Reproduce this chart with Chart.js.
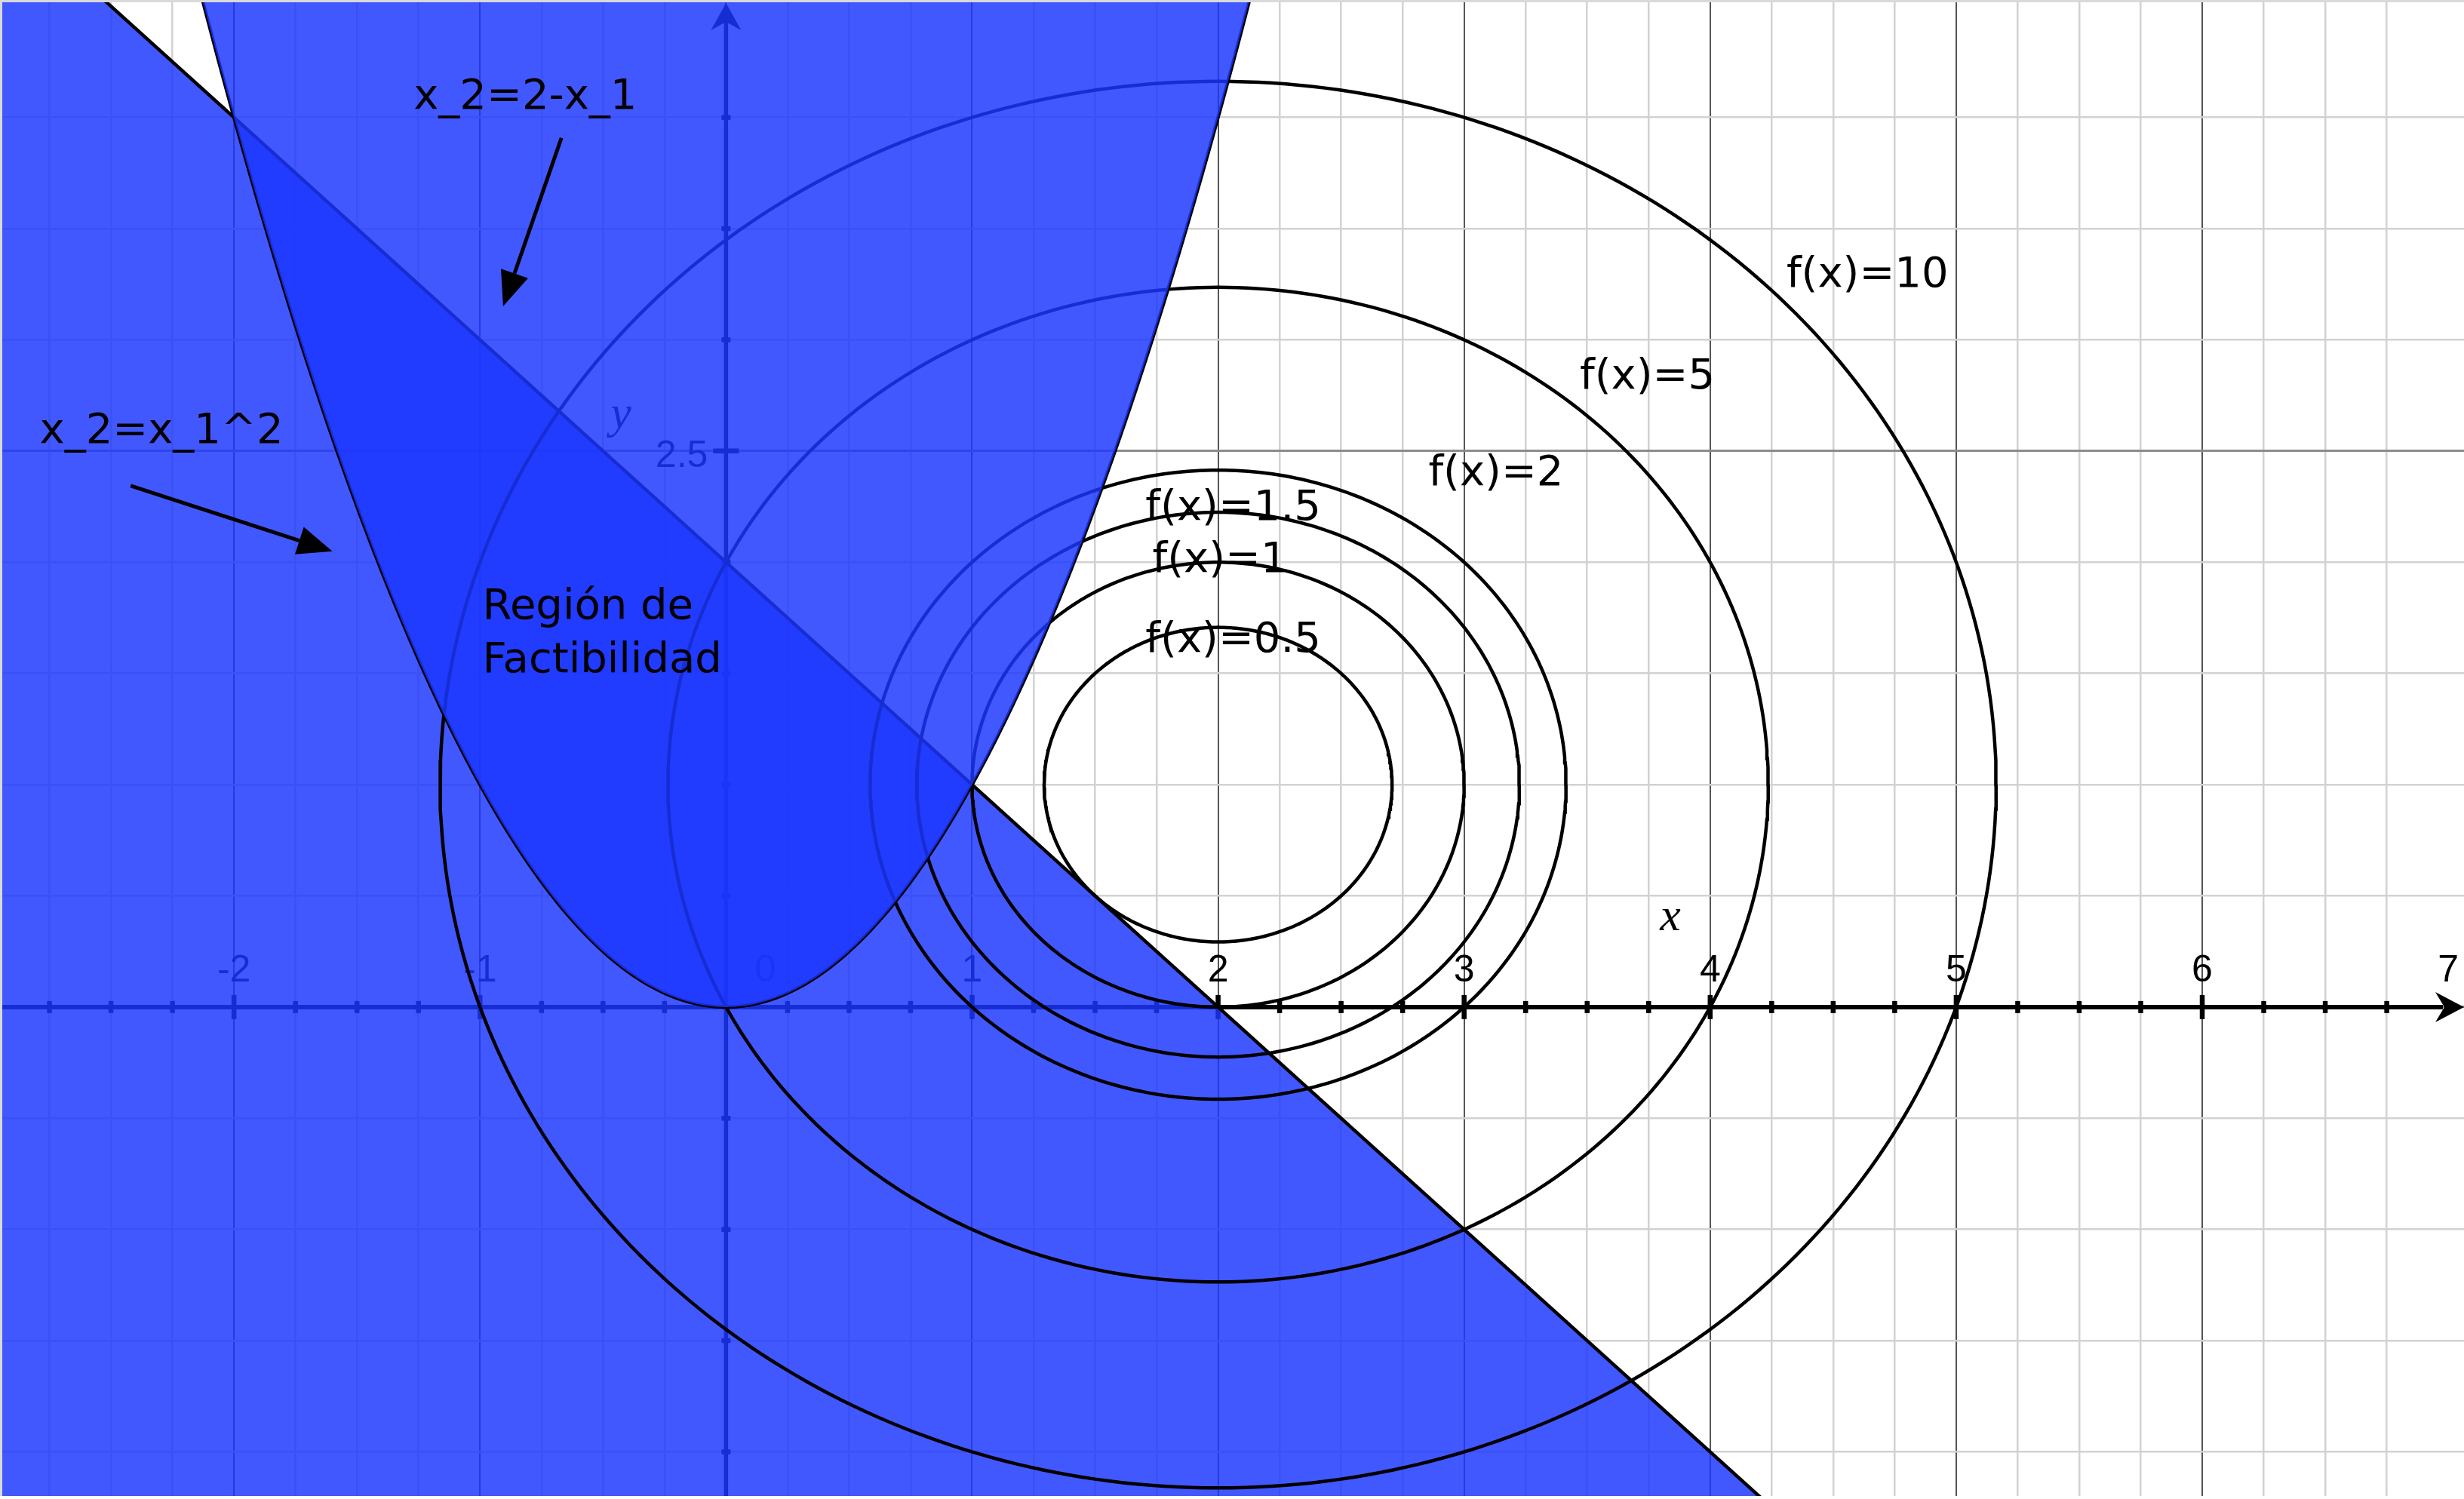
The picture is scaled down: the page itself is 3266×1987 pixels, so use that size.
<!DOCTYPE html>
<html lang="es">
<head>
<meta charset="UTF-8">
<title>Región de Factibilidad</title>
<script src="https://cdn.jsdelivr.net/npm/chart.js@4"></script>
<style>
  html, body { margin: 0; padding: 0; background: #fff; }
  #plot { display: block; }
</style>
</head>
<body>
<canvas id="plot" width="3266" height="1987"></canvas>
<script>
// visible window: x_1 across, x_2 up
const xRange = [-2.951, 7.064];
const yRange = [-2.212, 4.528];

// objective f(x) = (x_1-2)^2 + (x_2-1)^2 and the drawn level sets
const center = [2, 1];
const levels = [0.5, 1, 1.5, 2, 5, 10];
const levelNames = ['f(x)=0.5', 'f(x)=1', 'f(x)=1.5', 'f(x)=2', 'f(x)=5', 'f(x)=10'];
const levelNameX = [1.705, 1.733, 1.705, 2.855, 3.47, 4.31];
const levelNameY = [1.645, 2.005, 2.24, 2.395, 2.83, 3.29];

// constraints: x_2 <= 2 - x_1 and x_2 >= x_1^2
const lineEnds = [-2.951, 7.064];
const parabolaSpan = [-2.2, 2.2];

// axis labels
const xTicks = [-2, -1, 0, 1, 2, 3, 4, 5, 6, 7];
const xTickLabels = ['-2', '-1', '0', '1', '2', '3', '4', '5', '6', '7'];
const yTicks = [2.5];
const yTickLabels = ['2.5'];

// text notes and arrows (data coordinates)
const notes = ['x_2=2-x_1', 'x_2=x_1^2', 'Región de', 'Factibilidad'];
const noteX = [-1.27, -2.79, -0.99, -0.99];
const noteY = [4.09, 2.585, 1.795, 1.554];
const arrowFrom = [[-0.669, 3.908], [-2.42, 2.344]];
const arrowTo = [[-0.906, 3.151], [-1.60, 2.049]];

const fillColor = 'rgba(28, 54, 255, 0.83)';

const parabolaPts = [];
for (let i = 0; i <= 220; i++) {
    const x = parabolaSpan[0] + (parabolaSpan[1] - parabolaSpan[0]) * i / 220;
    parabolaPts.push({ x: x, y: x * x });
}
const linePts = lineEnds.map(x => ({ x: x, y: 2 - x }));

function levelCurve(level) {
    const r = Math.sqrt(level);
    const pts = [];
    for (let i = 0; i <= 360; i++) {
        const t = i / 360 * Math.PI * 2;
        pts.push({ x: center[0] + r * Math.cos(t), y: center[1] + r * Math.sin(t) });
    }
    return pts;
}

const datasets = [];
// parabola interior, drawn on top so what lies under it turns navy
datasets.push({
    label: 'x_2 >= x_1^2', data: parabolaPts, showLine: true, fill: 'end',
    backgroundColor: fillColor, borderColor: 'rgba(0,0,0,0)', borderWidth: 0, order: 0
});
datasets.push({
    label: 'x_2=x_1^2', data: parabolaPts, showLine: true, fill: false,
    borderColor: '#000', borderWidth: 4.5, order: 1
});
levels.forEach((lv, i) => {
    datasets.push({
        label: levelNames[i], data: levelCurve(lv), showLine: true, fill: false,
        borderColor: '#000', borderWidth: 4.5, order: 2
    });
});
datasets.push({
    label: 'x_2=2-x_1', data: linePts, showLine: true, fill: 'start',
    backgroundColor: fillColor, borderColor: '#000', borderWidth: 4.5, order: 3
});

function onStep(v, step) {
    return Math.abs(v / step - Math.round(v / step)) < 1e-6;
}

function axisHead(ctx, tx, ty, dx, dy, len, half, notch) {
    const bx = tx - dx * len, by = ty - dy * len;
    ctx.beginPath();
    ctx.moveTo(tx, ty);
    ctx.lineTo(bx - dy * half, by + dx * half);
    ctx.lineTo(tx - dx * notch, ty - dy * notch);
    ctx.lineTo(bx + dy * half, by - dx * half);
    ctx.closePath();
    ctx.fill();
}

function pointer(ctx, x1, y1, x2, y2, len, half) {
    const a = Math.atan2(y2 - y1, x2 - x1);
    const bx = x2 - len * Math.cos(a), by = y2 - len * Math.sin(a);
    ctx.beginPath();
    ctx.moveTo(x1, y1);
    ctx.lineTo(bx, by);
    ctx.stroke();
    ctx.beginPath();
    ctx.moveTo(x2, y2);
    ctx.lineTo(bx + half * Math.sin(a), by - half * Math.cos(a));
    ctx.lineTo(bx - half * Math.sin(a), by + half * Math.cos(a));
    ctx.closePath();
    ctx.fill();
}

// axes with arrows, ticks and numbers (sit under the shaded regions)
const axesPlugin = {
    id: 'axes',
    beforeDatasetsDraw(chart) {
        const { ctx, chartArea: area, scales: { x, y } } = chart;
        const x0 = x.getPixelForValue(0);
        const y0 = y.getPixelForValue(0);
        ctx.save();
        ctx.fillStyle = '#000';
        ctx.strokeStyle = '#000';

        ctx.lineWidth = 6;
        ctx.beginPath();
        ctx.moveTo(area.left, y0);
        ctx.lineTo(area.right - 28, y0);
        ctx.stroke();
        ctx.lineWidth = 5.5;
        ctx.beginPath();
        ctx.moveTo(x0, area.bottom);
        ctx.lineTo(x0, area.top + 28);
        ctx.stroke();

        ctx.lineWidth = 6.5;
        x.ticks.forEach(t => {
            if (!onStep(t.value, 0.25) || Math.abs(t.value) < 1e-6) return;
            const p = x.getPixelForValue(t.value);
            if (p > area.right - 45) return;
            const h = onStep(t.value, 1) ? 16 : 8;
            ctx.beginPath();
            ctx.moveTo(p, y0 - h);
            ctx.lineTo(p, y0 + h);
            ctx.stroke();
        });
        y.ticks.forEach(t => {
            if (!onStep(t.value, 0.5) || Math.abs(t.value) < 1e-6) return;
            const p = y.getPixelForValue(t.value);
            const h = onStep(t.value, 2.5) ? 17 : 6;
            ctx.beginPath();
            ctx.moveTo(x0 - h, p);
            ctx.lineTo(x0 + h, p);
            ctx.stroke();
        });

        axisHead(ctx, area.right, y0, 1, 0, 38, 20, 26);
        axisHead(ctx, x0, area.top + 4, 0, -1, 36, 20, 25);

        ctx.font = "50px 'Liberation Sans', Arial, sans-serif";
        ctx.textAlign = 'center';
        ctx.textBaseline = 'alphabetic';
        xTicks.forEach((v, i) => {
            let p = x.getPixelForValue(v);
            if (v === 0) p += 52;
            ctx.fillText(xTickLabels[i], p, y0 - 34);
        });
        ctx.textAlign = 'right';
        ctx.textBaseline = 'middle';
        yTicks.forEach((v, i) => {
            ctx.fillText(yTickLabels[i], x0 - 24, y.getPixelForValue(v) + 7);
        });

        ctx.font = "italic 62px 'Liberation Serif', 'DejaVu Serif', serif";
        ctx.textAlign = 'center';
        ctx.textBaseline = 'middle';
        ctx.fillText('x', x.getPixelForValue(3.838), y.getPixelForValue(0.4));
        ctx.fillText('y', x.getPixelForValue(-0.427), y.getPixelForValue(2.66));
        ctx.restore();
    }
};

// text notes, level names and pointers on top of everything
const notesPlugin = {
    id: 'notes',
    afterDatasetsDraw(chart) {
        const { ctx, scales: { x, y } } = chart;
        ctx.save();
        ctx.fillStyle = '#000';
        ctx.strokeStyle = '#000';
        ctx.font = "56px 'DejaVu Sans', sans-serif";
        ctx.textAlign = 'left';
        ctx.textBaseline = 'middle';
        levelNames.forEach((s, i) => {
            ctx.fillText(s, x.getPixelForValue(levelNameX[i]), y.getPixelForValue(levelNameY[i]));
        });
        notes.forEach((s, i) => {
            ctx.fillText(s, x.getPixelForValue(noteX[i]), y.getPixelForValue(noteY[i]));
        });
        ctx.lineWidth = 5;
        arrowFrom.forEach((f, i) => {
            pointer(ctx,
                x.getPixelForValue(f[0]), y.getPixelForValue(f[1]),
                x.getPixelForValue(arrowTo[i][0]), y.getPixelForValue(arrowTo[i][1]),
                46, 19);
        });
        ctx.restore();
    },
    afterDraw(chart) {
        const { ctx, width, height } = chart;
        ctx.save();
        ctx.fillStyle = '#d9d9d9';
        ctx.fillRect(0, 0, width, 3);
        ctx.fillRect(0, 0, 3, height);
        ctx.fillStyle = '#ffffff';
        ctx.fillRect(0, height - 4, width, 4);
        ctx.restore();
    }
};

new Chart(document.getElementById('plot'), {
    type: 'scatter',
    data: { datasets: datasets },
    options: {
        responsive: false,
        animation: false,
        devicePixelRatio: 1,
        events: [],
        layout: { padding: 0 },
        elements: { point: { radius: 0 }, line: { tension: 0 } },
        plugins: { legend: { display: false }, tooltip: { enabled: false } },
        scales: {
            x: {
                type: 'linear', min: xRange[0], max: xRange[1],
                ticks: { display: false, stepSize: 0.25 },
                border: { display: false },
                grid: {
                    drawTicks: false,
                    color: c => !onStep(c.tick.value, 0.25) ? 'rgba(0,0,0,0)'
                        : onStep(c.tick.value, 1) ? '#555555' : '#d2d2d2',
                    lineWidth: c => onStep(c.tick.value, 1) ? 2 : 2.5
                }
            },
            y: {
                type: 'linear', min: yRange[0], max: yRange[1],
                ticks: { display: false, stepSize: 0.5 },
                border: { display: false },
                grid: {
                    drawTicks: false,
                    color: c => !onStep(c.tick.value, 0.5) ? 'rgba(0,0,0,0)'
                        : onStep(c.tick.value, 2.5) ? '#8c8c8c' : '#d2d2d2',
                    lineWidth: c => onStep(c.tick.value, 2.5) ? 3 : 2.5
                }
            }
        }
    },
    plugins: [axesPlugin, notesPlugin]
});
</script>
</body>
</html>
